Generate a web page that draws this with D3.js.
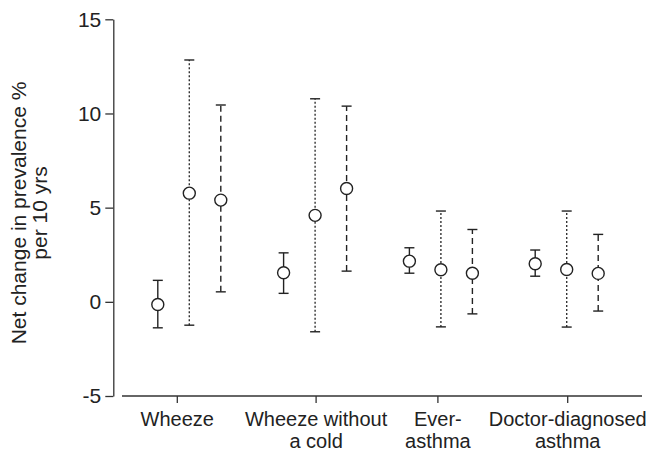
<!DOCTYPE html>
<html>
<head>
<meta charset="utf-8">
<script src="https://cdn.jsdelivr.net/npm/d3@7"></script>
<style>
  body { margin: 0; background: #fff; }
  text { font-family: "Liberation Sans", Arial, sans-serif; fill: #222; }
</style>
</head>
<body>
<div id="wrapper"></div>
<script>
// categories & series
const categories = ["Wheeze", "Wheeze without a cold", "Ever-asthma", "Doctor-diagnosed asthma"];
const categoryLines = [["Wheeze"], ["Wheeze without", "a cold"], ["Ever-", "asthma"], ["Doctor-diagnosed", "asthma"]];
const seriesNames = ["s1", "s2", "s3"];

// point estimates and CI limits, per series (one value per category)
const estS1 = [-0.14, 1.54, 2.16, 2.02];
const lowS1 = [-1.38, 0.45, 1.52, 1.36];
const highS1 = [1.14, 2.60, 2.87, 2.75];

const estS2 = [5.77, 4.59, 1.70, 1.72];
const lowS2 = [-1.24, -1.59, -1.33, -1.34];
const highS2 = [12.84, 10.78, 4.82, 4.82];

const estS3 = [5.40, 6.02, 1.52, 1.51];
const lowS3 = [0.53, 1.63, -0.64, -0.49];
const highS3 = [10.45, 10.39, 3.84, 3.58];

const yTicks = [-5, 0, 5, 10, 15];

function draw() {
	const width = 655, height = 453;
	const fontSize = 21;

	const svg = d3.select("#wrapper").append("svg")
		.attr("width", width)
		.attr("height", height);

	const yScale = d3.scaleLinear().domain([-5, 15]).range([396, 19.3]);
	const xScale = d3.scalePoint().domain(categories).range([189.3, 566.7]);
	const offset = d3.scalePoint().domain(seriesNames).range([-31.5, 31.5]);

	const dashes = { s1: null, s2: "2,2", s3: "6,4" };
	const strokes = { s1: "#222", s2: "#333", s3: "#222" };

	const rows = [];
	const groups = [[estS1, lowS1, highS1], [estS2, lowS2, highS2], [estS3, lowS3, highS3]];
	groups.forEach((g, si) => {
		categories.forEach((c, ci) => {
			rows.push({ cat: c, series: seriesNames[si], est: g[0][ci], lo: g[1][ci], hi: g[2][ci] });
		});
	});

	// y axis
	const yAxis = d3.axisLeft(yScale).tickValues(yTicks).tickSize(8).tickPadding(4).tickSizeOuter(0)
		.tickFormat(d => String(d));
	const gy = svg.append("g").attr("transform", "translate(113.3,0)").call(yAxis);
	gy.select(".domain").attr("stroke", "#333").attr("stroke-width", 1.3);
	gy.selectAll(".tick line").attr("stroke", "#333").attr("stroke-width", 1.3);
	gy.selectAll(".tick text").attr("font-size", fontSize).attr("font-family", "Liberation Sans, Arial, sans-serif").attr("fill", "#222");

	// x axis
	const xAxis = d3.axisBottom(xScale).tickSize(7).tickSizeOuter(0).tickFormat("");
	const gx = svg.append("g").attr("transform", "translate(0,396)").call(xAxis);
	gx.select(".domain").remove();
	gx.append("line").attr("x1", 122).attr("x2", 642).attr("stroke", "#333").attr("stroke-width", 1.3);
	const tickShift = [-12, 1, -3, 1];
	gx.selectAll(".tick").attr("transform", (d, i) => `translate(${xScale(d) + tickShift[i]},0)`);
	gx.selectAll(".tick line").attr("stroke", "#333").attr("stroke-width", 1.3);

	categories.forEach((c, i) => {
		const t = svg.append("text")
			.attr("x", xScale(c) + tickShift[i])
			.attr("y", 425.5)
			.attr("text-anchor", "middle")
			.attr("font-size", 20);
		categoryLines[i].forEach((ln, j) => {
			t.append("tspan").attr("x", xScale(c) + tickShift[i]).attr("dy", j === 0 ? 0 : 22.4).text(ln);
		});
	});

	// y label
	const yl = svg.append("text")
		.attr("transform", "translate(0,213) rotate(-90)")
		.attr("text-anchor", "middle")
		.attr("font-size", fontSize);
	yl.append("tspan").attr("x", 0).attr("y", 25.5).text("Net change in prevalence %");
	yl.append("tspan").attr("x", 0).attr("y", 46.5).text("per 10 yrs");

	// error bars
	const marks = svg.append("g").selectAll("g").data(rows).join("g")
		.attr("transform", d => `translate(${xScale(d.cat) + offset(d.series)},0)`);

	marks.append("line")
		.attr("y1", d => yScale(d.lo)).attr("y2", d => yScale(d.hi))
		.attr("stroke", d => strokes[d.series])
		.attr("stroke-width", 1.4)
		.attr("stroke-dasharray", d => dashes[d.series]);

	marks.selectAll(".cap").data(d => [d.lo, d.hi].map(v => ({ v, s: d.series }))).join("line")
		.attr("class", "cap")
		.attr("x1", -5).attr("x2", 5)
		.attr("y1", d => yScale(d.v)).attr("y2", d => yScale(d.v))
		.attr("stroke", "#222")
		.attr("stroke-width", 1.4);

	marks.append("circle")
		.attr("cy", d => yScale(d.est))
		.attr("r", 6)
		.attr("fill", "#fff")
		.attr("stroke", "#222")
		.attr("stroke-width", 1.4);
}

draw();
</script>
</body>
</html>
